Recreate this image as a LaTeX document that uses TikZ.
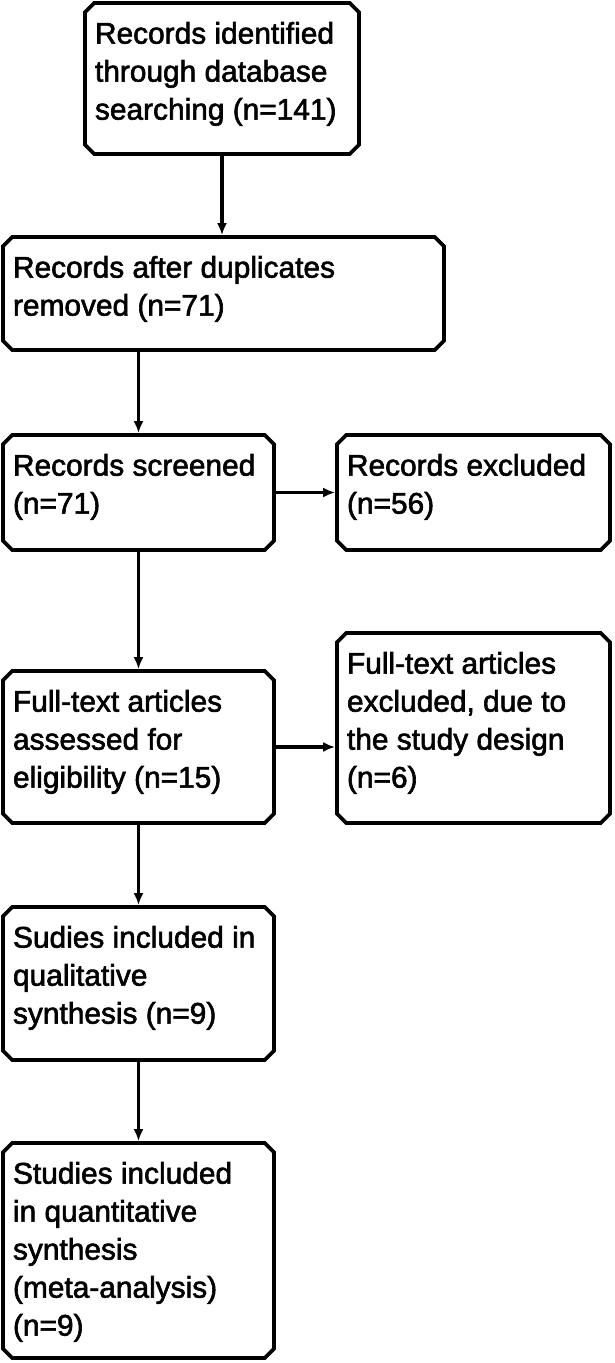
\documentclass[tikz,border=0pt]{standalone}
\usepackage{fontspec}
\setmainfont{Liberation Sans}
\newfontfamily\flowfont{Liberation Sans}[FakeBold=2]
\usetikzlibrary{arrows.meta,shapes.misc}

\tikzset{
  flowbox/.style={chamfered rectangle,chamfered rectangle xsep=3.5pt,chamfered rectangle ysep=3.5pt,
    draw,line width=2.8pt,inner xsep=4pt,inner ysep=10.75pt,
    font=\flowfont\fontsize{22.4pt}{28.5pt}\selectfont},
  flowarrow/.style={->,line width=2.9pt}
}
\newcommand{\boxtext}[3]{\parbox[c][#2][t]{#1}{\raggedright #3}}

\begin{document}
\begin{tikzpicture}[line cap=butt,line join=miter,>={Latex[length=9pt,width=7.5pt]},x=0.75pt,y=-0.75pt]
\useasboundingbox (0,0) rectangle (614,1363);
% left column
\node[flowbox] (ident) at (222,78.5) {\boxtext{190.5pt}{84.75pt}{Records identified\\through database\\searching (n=141)}};
\node[flowbox] (dupl) at (223.5,293.5) {\boxtext{315.75pt}{56.25pt}{Records after duplicates\\removed (n=71)}};
\node[flowbox] (screen) at (138.5,492.5) {\boxtext{188.25pt}{57.75pt}{Records screened\\(n=71)}};
\node[flowbox] (full) at (138.5,747) {\boxtext{188.25pt}{85.5pt}{Full-text articles\\assessed for\\eligibility (n=15)}};
\node[flowbox] (qual) at (138.5,983.5) {\boxtext{188.25pt}{86.25pt}{Sudies included in\\qualitative\\synthesis (n=9)}};
\node[flowbox] (quant) at (138.5,1250.5) {\boxtext{188.25pt}{132.75pt}{Studies included\\in quantitative\\synthesis\\(meta-analysis)\\(n=9)}};
% right column
\node[flowbox] (excl) at (473.5,492.5) {\boxtext{189.75pt}{57.75pt}{Records excluded\\(n=56)}};
\node[flowbox] (fullexcl) at (473.5,728) {\boxtext{189.75pt}{114pt}{Full-text articles\\excluded, due to\\the study design\\(n=6)}};
% arrows
\draw[flowarrow] (ident.south) -- (ident.south |- dupl.north);
\draw[flowarrow] (screen.north |- dupl.south) -- (screen.north);
\draw[flowarrow] (screen.east) -- (excl.west);
\draw[flowarrow] (screen.south) -- (full.north);
\draw[flowarrow] (full.east) -- (full.east -| fullexcl.west);
\draw[flowarrow] (full.south) -- (qual.north);
\draw[flowarrow] (qual.south) -- (quant.north);
\end{tikzpicture}
\end{document}
